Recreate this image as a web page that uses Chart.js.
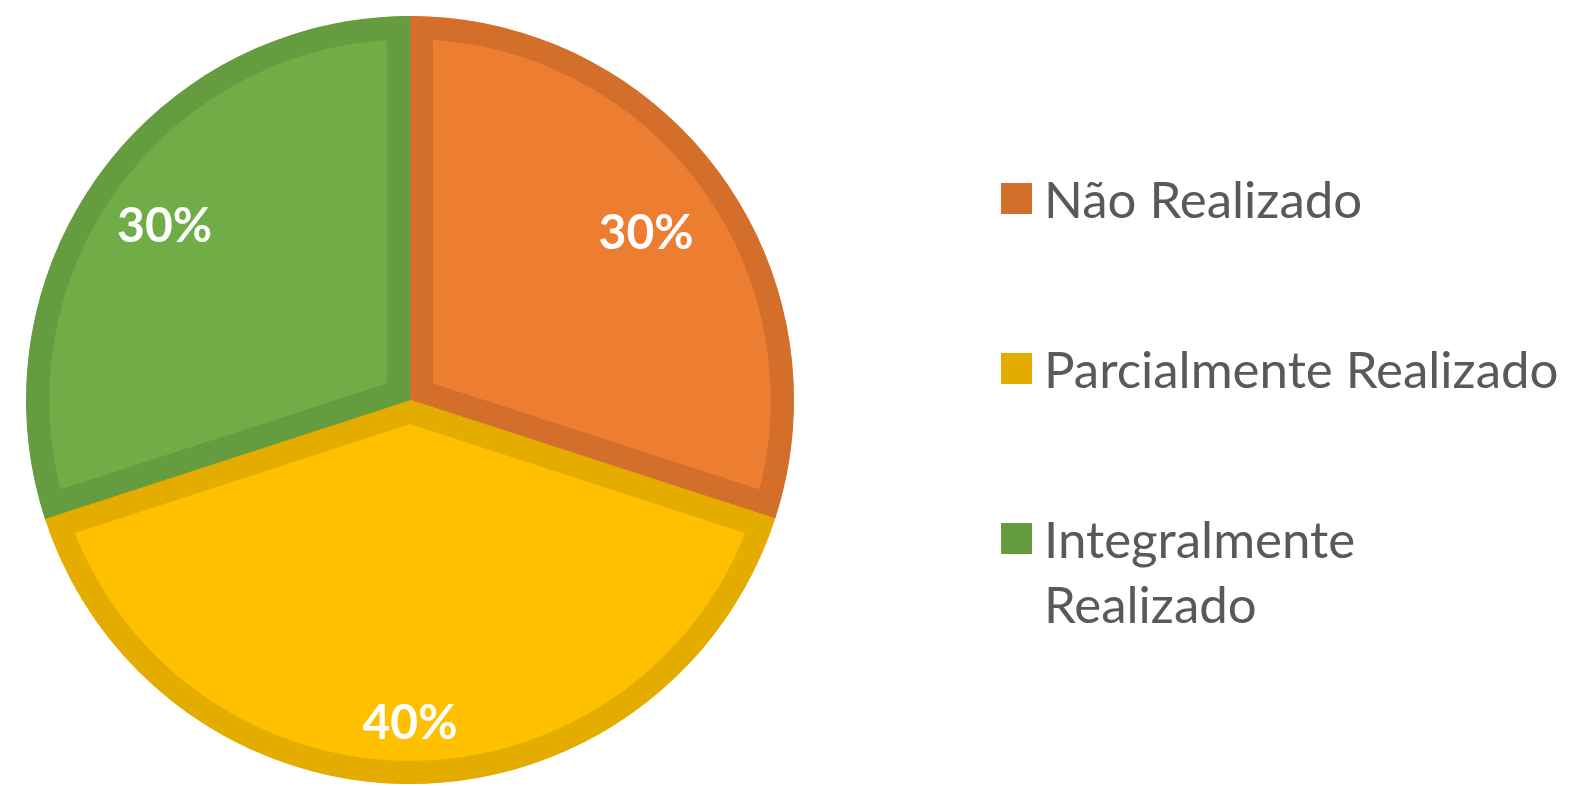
<!DOCTYPE html>
<html>
<head>
<meta charset="utf-8">
<script src="https://cdn.jsdelivr.net/npm/chart.js@4"></script>
<style>
  html, body { margin: 0; padding: 0; background: #fff; }
  #wrap { position: relative; width: 1576px; height: 786px; }
  #legend { position: absolute; left: 1001px; top: 166px; margin: 0; padding: 0; list-style: none;
            font-family: Lato, sans-serif; font-size: 51px; color: #595959; }
  #legend li { display: flex; align-items: flex-start; line-height: 65px; margin-bottom: 105px; }
  #legend .box { width: 31px; height: 31px; margin-top: 17px; margin-right: 12px; flex: none; }
</style>
</head>
<body>
<div id="wrap">
  <canvas id="myChart" width="1576" height="786"></canvas>
  <ul id="legend"></ul>
</div>
<script>
const labels = ['Não Realizado', 'Parcialmente Realizado', ['Integralmente', 'Realizado']];
const values = [30, 40, 30];
const fillColors = ['#ED7D31', '#FFC000', '#70AD47'];
const edgeColors = ['#D46E2B', '#E5AC00', '#649C3F'];

const labelPlugin = {
    id: 'pctLabels',
    afterDatasetsDraw(chart) {
        const ctx = chart.ctx;
        const meta = chart.getDatasetMeta(0);
        const total = values.reduce((a, b) => a + b, 0);
        const dist = [0.76, 0.83, 0.79];
        ctx.save();
        ctx.fillStyle = '#fff';
        ctx.font = 'bold 48px Lato, sans-serif';
        ctx.textAlign = 'center';
        ctx.textBaseline = 'middle';
        meta.data.forEach((arc, i) => {
            const mid = (arc.startAngle + arc.endAngle) / 2;
            const r = arc.outerRadius * dist[i];
            const x = arc.x + Math.cos(mid) * r;
            const y = arc.y + Math.sin(mid) * r + 5;
            ctx.fillText(Math.round(values[i] / total * 100) + '%', x, y);
        });
        ctx.restore();
    }
};

const ctx = document.getElementById('myChart').getContext('2d');
const myChart = new Chart(ctx, {
    type: 'pie',
    data: {
        labels: labels,
        datasets: [{
            data: values,
            backgroundColor: fillColors,
            borderColor: edgeColors,
            borderWidth: 23,
            borderAlign: 'inner'
        }]
    },
    options: {
        responsive: false,
        animation: false,
        layout: { padding: { left: 0, right: 756, top: 16, bottom: 2 } },
        plugins: {
            legend: { display: false },
            tooltip: { enabled: false }
        }
    },
    plugins: [labelPlugin]
});

const legend = document.getElementById('legend');
labels.forEach((l, i) => {
    const li = document.createElement('li');
    const box = document.createElement('span');
    box.className = 'box';
    box.style.background = edgeColors[i];
    const txt = document.createElement('span');
    txt.innerHTML = Array.isArray(l) ? l.join('<br>') : l;
    li.appendChild(box);
    li.appendChild(txt);
    legend.appendChild(li);
});
</script>
</body>
</html>
